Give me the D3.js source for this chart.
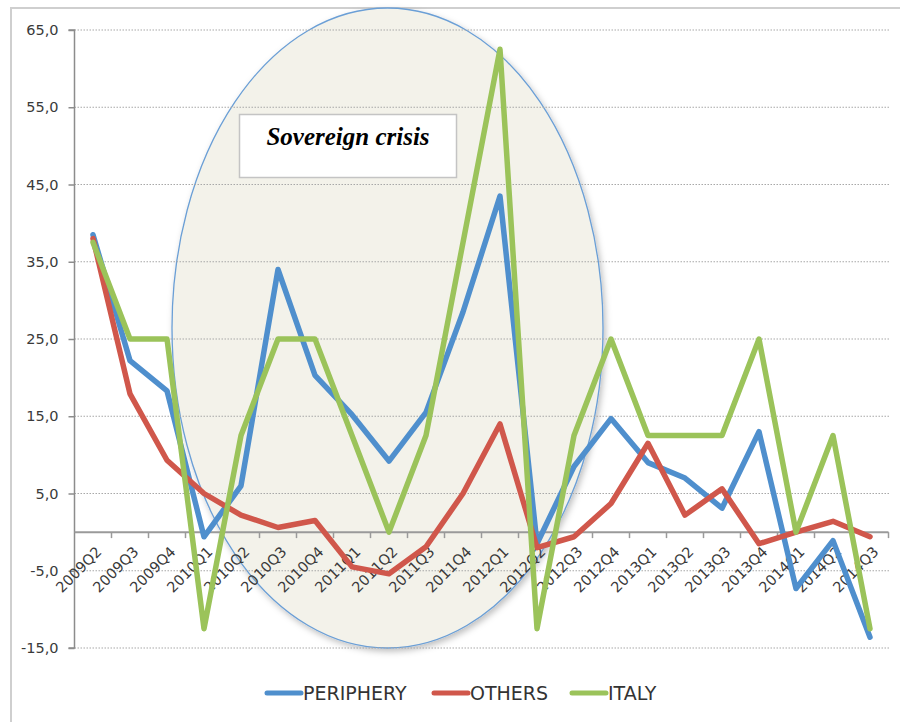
<!DOCTYPE html>
<html>
<head>
<meta charset="utf-8">
<script src="https://cdn.jsdelivr.net/npm/d3@7"></script>
<style>
  html, body { margin: 0; padding: 0; background: #fff; }
  svg { display: block; }
</style>
</head>
<body>
<svg id="chart" width="900" height="722"></svg>
<script>
// Quarterly series, 2009Q2 – 2014Q3
const quarters = [
  "2009Q2","2009Q3","2009Q4",
  "2010Q1","2010Q2","2010Q3","2010Q4",
  "2011Q1","2011Q2","2011Q3","2011Q4",
  "2012Q1","2012Q2","2012Q3","2012Q4",
  "2013Q1","2013Q2","2013Q3","2013Q4",
  "2014Q1","2014Q2","2014Q3"
];
const periphery = [38.5, 22.2, 18.3, -0.6, 6.0, 34.0, 20.3, 15.2, 9.2, 15.5, 28.5, 43.5, -1.5, 8.5, 14.7, 9.0, 7.0, 3.1, 13.0, -7.3, -1.1, -13.6];
const others    = [38.0, 17.9, 9.3, 5.0, 2.2, 0.6, 1.5, -4.5, -5.4, -1.9, 5.0, 14.0, -2.0, -0.6, 3.7, 11.5, 2.2, 5.6, -1.5, 0.0, 1.4, -0.6];
const italy     = [37.5, 25.0, 25.0, -12.5, 12.5, 25.0, 25.0, 12.5, 0.0, 12.5, 37.5, 62.5, -12.5, 12.5, 25.0, 12.5, 12.5, 12.5, 25.0, 0.0, 12.5, -12.5];
const seriesNames = ["PERIPHERY", "OTHERS", "ITALY"];
const yTicks = [65, 55, 45, 35, 25, 15, 5, -5, -15];
const annotation = "Sovereign crisis";

const colors = { PERIPHERY: "#4f8fcd", OTHERS: "#d0574b", ITALY: "#9bc35a" };
const series = [
  { name: "PERIPHERY", values: periphery },
  { name: "OTHERS", values: others },
  { name: "ITALY", values: italy }
];

const svg = d3.select("#chart");
const plot = { left: 74.5, right: 888.5, top: 30, bottom: 648 };

const x = d3.scaleBand().domain(quarters).range([plot.left, plot.right]).padding(0);
const y = d3.scaleLinear().domain([-15, 65]).range([plot.bottom, plot.top]);
const cx = q => x(q) + x.bandwidth() / 2;

const defs = svg.append("defs");
const shadow = defs.append("filter").attr("id", "shade")
  .attr("x", "-10%").attr("y", "-10%").attr("width", "125%").attr("height", "125%");
shadow.append("feDropShadow").attr("dx", 2).attr("dy", 3)
  .attr("stdDeviation", 3).attr("flood-color", "#000").attr("flood-opacity", 0.25);

// Outer frame
svg.append("rect")
  .attr("x", 11).attr("y", 8).attr("width", 900).attr("height", 730)
  .attr("fill", "none").attr("stroke", "#cfcfcf").attr("stroke-width", 2);

// Highlight of the crisis period
svg.append("ellipse")
  .attr("cx", 387.5).attr("cy", 328).attr("rx", 215.5).attr("ry", 320)
  .attr("fill", "#f3f2ea").attr("stroke", "#6b9fd6").attr("stroke-width", 1.3)
  .attr("filter", "url(#shade)");

// Dotted horizontal gridlines
svg.append("g").selectAll("line").data(yTicks).join("line")
  .attr("x1", plot.left).attr("x2", plot.right + 2)
  .attr("y1", d => y(d)).attr("y2", d => y(d))
  .attr("stroke", "#a8a8a8").attr("stroke-width", 1.2)
  .attr("stroke-dasharray", "1.5,1.5");

// Y axis
const fmt = d => d3.format(".1f")(d).replace(".", ",").replace("\u2212", "-");
const yAxis = d3.axisLeft(y).tickValues(yTicks).tickSize(6).tickPadding(10).tickFormat(fmt);
const gy = svg.append("g").attr("transform", `translate(${plot.left},0)`).call(yAxis);
gy.attr("font-family", null).attr("font-size", null);
gy.select(".domain").attr("stroke", "#8c8c8c").attr("stroke-width", 1.5)
  .attr("d", `M-6,${plot.top}H0V${plot.bottom}H-6`);
gy.selectAll(".tick line").attr("stroke", "#8c8c8c").attr("stroke-width", 1.5);
gy.selectAll(".tick text")
  .style("font-family", "'DejaVu Sans', sans-serif").style("font-size", "14.5px")
  .attr("fill", "#3a3a3a");

// Zero baseline with category ticks
const y0 = y(0);
svg.append("line")
  .attr("x1", plot.left).attr("x2", plot.right)
  .attr("y1", y0).attr("y2", y0)
  .attr("stroke", "#9a9a9a").attr("stroke-width", 2);
const boundaries = quarters.map(q => x(q)).concat([plot.right]);
svg.append("g").selectAll("line").data(boundaries.slice(1)).join("line")
  .attr("x1", d => d).attr("x2", d => d)
  .attr("y1", y0).attr("y2", y0 + 6)
  .attr("stroke", "#9a9a9a").attr("stroke-width", 1.5);

// Rotated category labels
svg.append("g").selectAll("text").data(quarters).join("text")
  .attr("transform", q => `translate(${cx(q) + 6},${y0 + 17}) rotate(-45)`)
  .attr("text-anchor", "end")
  .attr("dy", "0.35em")
  .style("font-family", "'DejaVu Sans', sans-serif").style("font-size", "14.5px")
  .attr("fill", "#3a3a3a")
  .text(q => q);

// Series lines
const line = d3.line().x((d, i) => cx(quarters[i])).y(d => y(d));
svg.append("g").selectAll("path").data(series).join("path")
  .attr("d", s => line(s.values))
  .attr("fill", "none")
  .attr("stroke", s => colors[s.name])
  .attr("stroke-width", 5.5)
  .attr("stroke-linejoin", "round")
  .attr("stroke-linecap", "round");

// Annotation box
const box = svg.append("g");
box.append("rect")
  .attr("x", 239.5).attr("y", 114.5).attr("width", 217).attr("height", 63)
  .attr("fill", "#fff").attr("stroke", "#c4c4c4").attr("stroke-width", 1.5);
box.append("text")
  .attr("x", 348).attr("y", 145)
  .attr("text-anchor", "middle")
  .style("font-family", "'Liberation Serif', 'Times New Roman', serif")
  .style("font-weight", "bold").style("font-style", "italic")
  .style("font-size", "25px")
  .attr("fill", "#000")
  .text(annotation);

// Legend
const legendItems = [
  { name: seriesNames[0], x0: 265 },
  { name: seriesNames[1], x0: 432 },
  { name: seriesNames[2], x0: 570 }
];
const lg = svg.append("g").selectAll("g").data(legendItems).join("g")
  .attr("transform", d => `translate(${d.x0},693)`);
lg.append("line")
  .attr("x1", 2).attr("x2", 36).attr("y1", 0).attr("y2", 0)
  .attr("stroke", d => colors[d.name]).attr("stroke-width", 5)
  .attr("stroke-linecap", "round");
lg.append("text")
  .attr("x", 38).attr("y", 0).attr("dy", "0.36em")
  .style("font-family", "'DejaVu Sans', sans-serif").style("font-size", "19px")
  .attr("fill", "#333")
  .text(d => d.name);
</script>
</body>
</html>
